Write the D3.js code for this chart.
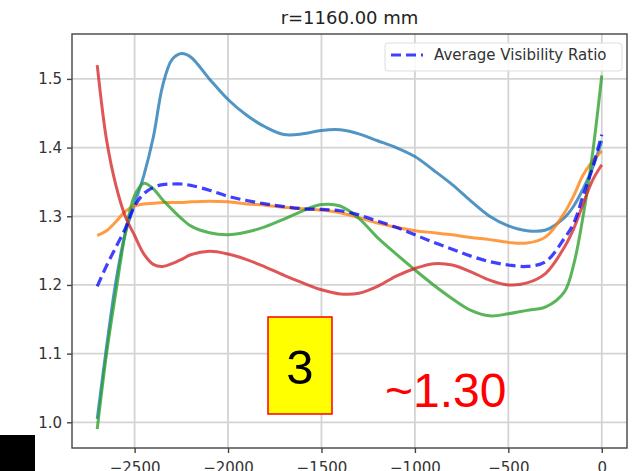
<!DOCTYPE html>
<html>
<head>
<meta charset="utf-8">
<script src="https://cdn.jsdelivr.net/npm/d3@7"></script>
<style>
  body { margin: 0; background: #fff; }
  svg { display: block; }
</style>
</head>
<body>
<div id="chart"></div>
<script>
// sample positions along the x axis (mm)
const xs = [-2700, -2650, -2600, -2550, -2500, -2450, -2400, -2350, -2300, -2250, -2200,
  -2100, -2000, -1900, -1800, -1700, -1600, -1500, -1400, -1300, -1200, -1100, -1000,
  -900, -800, -700, -600, -500, -400, -300, -200, -150, -100, -50, 0];

// four runs (matplotlib C0..C3)
const blueVals = [1.005, 1.11, 1.205, 1.275, 1.318, 1.36, 1.415, 1.49, 1.528, 1.537, 1.532,
  1.50, 1.47, 1.447, 1.43, 1.419, 1.42, 1.425, 1.426, 1.42, 1.41, 1.40, 1.387,
  1.367, 1.346, 1.322, 1.30, 1.286, 1.279, 1.28, 1.298, 1.315, 1.34, 1.37, 1.41];
const orangeVals = [1.272, 1.279, 1.292, 1.307, 1.315, 1.318, 1.319, 1.32, 1.32, 1.32, 1.321,
  1.322, 1.321, 1.318, 1.316, 1.313, 1.311, 1.309, 1.305, 1.298, 1.29, 1.284, 1.279,
  1.276, 1.273, 1.269, 1.266, 1.262, 1.261, 1.27, 1.305, 1.33, 1.36, 1.38, 1.395];
const greenVals = [0.99, 1.10, 1.19, 1.275, 1.33, 1.348, 1.34, 1.324, 1.31, 1.297, 1.286,
  1.276, 1.273, 1.277, 1.285, 1.296, 1.308, 1.317, 1.315, 1.297, 1.269, 1.245, 1.222,
  1.20, 1.18, 1.163, 1.155, 1.158, 1.163, 1.168, 1.19, 1.23, 1.30, 1.39, 1.505];
const redVals = [1.52, 1.411, 1.345, 1.30, 1.272, 1.245, 1.23, 1.227, 1.231, 1.237, 1.244,
  1.249, 1.245, 1.237, 1.226, 1.214, 1.203, 1.193, 1.187, 1.188, 1.198, 1.213, 1.224,
  1.231, 1.229, 1.219, 1.207, 1.20, 1.203, 1.217, 1.255, 1.282, 1.318, 1.352, 1.375];
// average of the four
const avgVals = [1.198, 1.228, 1.255, 1.282, 1.315, 1.333, 1.342, 1.346, 1.347, 1.347, 1.345,
  1.338, 1.329, 1.323, 1.318, 1.314, 1.311, 1.310, 1.308, 1.302, 1.293, 1.284, 1.273,
  1.262, 1.252, 1.242, 1.234, 1.229, 1.227, 1.234, 1.268, 1.29, 1.33, 1.37, 1.419];

const xTicks = [-2500, -2000, -1500, -1000, -500, 0];
const yTicks = [1.0, 1.1, 1.2, 1.3, 1.4, 1.5];
const titleText = "r=1160.00 mm";
const legendLabel = "Average Visibility Ratio";
const boxLabel = "3";
const noteText = "~1.30";

const width = 635, height = 471;
const plot = { left: 72, right: 627, top: 34, bottom: 448 };

const svg = d3.select("#chart").append("svg")
    .attr("width", width).attr("height", height);

const x = d3.scaleLinear().domain([-2835, 135]).range([plot.left, plot.right]);
const y = d3.scaleLinear().domain([0.9626, 1.5654]).range([plot.bottom, plot.top]);

const tickFont = "'DejaVu Sans', sans-serif";

// grid
const grid = svg.append("g");
grid.selectAll(".gx").data(xTicks).enter().append("line")
    .attr("x1", d => x(d)).attr("x2", d => x(d))
    .attr("y1", plot.top).attr("y2", plot.bottom)
    .attr("stroke", "#d4d4d4").attr("stroke-width", 1.8);
grid.selectAll(".gy").data(yTicks).enter().append("line")
    .attr("x1", plot.left).attr("x2", plot.right)
    .attr("y1", d => y(d)).attr("y2", d => y(d))
    .attr("stroke", "#d4d4d4").attr("stroke-width", 1.8);

// axes
const xAxis = svg.append("g").attr("transform", `translate(0,${plot.bottom})`)
    .call(d3.axisBottom(x).tickValues(xTicks).tickSize(5).tickPadding(9)
        .tickFormat(d => d3.format(".0f")(d).replace("-", "\u2212")));
const yAxis = svg.append("g").attr("transform", `translate(${plot.left},0)`)
    .call(d3.axisLeft(y).tickValues(yTicks).tickSize(5).tickPadding(5)
        .tickFormat(d3.format(".1f")));
[xAxis, yAxis].forEach(a => {
    a.select(".domain").remove();
    a.selectAll(".tick line").attr("stroke", "#444").attr("stroke-width", 1.4);
    a.selectAll(".tick text").attr("fill", "#333")
        .style("font-family", tickFont).style("font-size", "15px");
});

// series
const line = d3.line()
    .x((d, i) => x(xs[i]))
    .y(d => y(d))
    .curve(d3.curveCatmullRom.alpha(0.5));

const series = [
    { vals: blueVals, color: "#1f77b4" },
    { vals: orangeVals, color: "#ff7f0e" },
    { vals: greenVals, color: "#2ca02c" },
    { vals: redVals, color: "#d62728" }
];
svg.selectAll(".run").data(series).enter().append("path")
    .attr("d", d => line(d.vals))
    .attr("fill", "none")
    .attr("stroke", d => d.color)
    .attr("stroke-opacity", 0.78)
    .attr("stroke-width", 3);

svg.append("path")
    .attr("d", line(avgVals))
    .attr("fill", "none")
    .attr("stroke", "#0000ff")
    .attr("stroke-opacity", 0.75)
    .attr("stroke-width", 3.2)
    .attr("stroke-dasharray", "10,5");

// frame
svg.append("rect")
    .attr("x", plot.left).attr("y", plot.top)
    .attr("width", plot.right - plot.left).attr("height", plot.bottom - plot.top)
    .attr("fill", "none").attr("stroke", "#444").attr("stroke-width", 1.4);

// title
svg.append("text")
    .attr("x", (plot.left + plot.right) / 2).attr("y", 24)
    .attr("text-anchor", "middle")
    .style("font-family", tickFont).style("font-size", "18px")
    .attr("fill", "#222")
    .text(titleText);

// legend
const lg = svg.append("g");
lg.append("rect")
    .attr("x", 385).attr("y", 43).attr("width", 237).attr("height", 28)
    .attr("rx", 3).attr("fill", "#fff").attr("fill-opacity", 0.85)
    .attr("stroke", "#ddd").attr("stroke-width", 1);
lg.append("line")
    .attr("x1", 391).attr("x2", 423).attr("y1", 55).attr("y2", 55)
    .attr("stroke", "#0000ff").attr("stroke-opacity", 0.75)
    .attr("stroke-width", 3.2).attr("stroke-dasharray", "10,5");
lg.append("text")
    .attr("x", 434).attr("y", 60)
    .style("font-family", tickFont).style("font-size", "15px")
    .attr("fill", "#333")
    .text(legendLabel);

// annotations
svg.append("rect")
    .attr("x", 268).attr("y", 317).attr("width", 64).attr("height", 97)
    .attr("fill", "#ffff00").attr("stroke", "#ff0000").attr("stroke-width", 1.5);
svg.append("text")
    .attr("x", 300).attr("y", 384)
    .attr("text-anchor", "middle")
    .style("font-family", "'Liberation Sans', Arial, sans-serif").style("font-size", "49px")
    .attr("fill", "#000")
    .text(boxLabel);
svg.append("text")
    .attr("x", 385).attr("y", 407)
    .style("font-family", "'Liberation Sans', Arial, sans-serif").style("font-size", "48px")
    .attr("fill", "#ff0000")
    .text(noteText);

svg.append("rect")
    .attr("x", 0).attr("y", 435).attr("width", 35).attr("height", 36)
    .attr("fill", "#000");
</script>
</body>
</html>
